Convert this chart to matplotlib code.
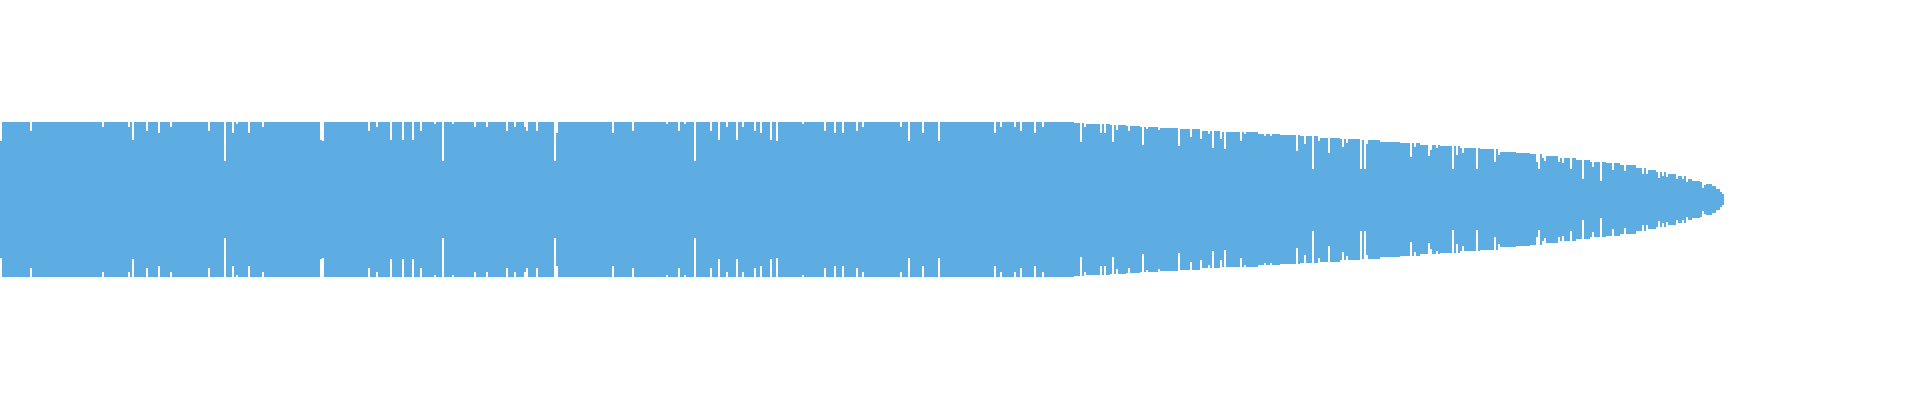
import matplotlib
matplotlib.use("Agg")
from matplotlib import pyplot as plt
import numpy as np

# envelope of the waveform: pixel x where each step starts, and its amplitude (1 = full)
env_x = [0, 1074, 1085, 1095, 1110, 1125, 1140, 1160, 1180, 1200, 1220, 1240, 1260,
         1280, 1300, 1320, 1340, 1360, 1380, 1400, 1420, 1440, 1460, 1480, 1500,
         1515, 1530, 1545, 1560, 1575, 1590, 1605, 1620, 1635, 1645, 1655, 1665,
         1675, 1685, 1692, 1700, 1706, 1712, 1716, 1720, 1722]
env_amp = [1.0, 0.99, 0.98, 0.97, 0.96, 0.945, 0.935, 0.92, 0.905, 0.89, 0.875, 0.865,
           0.85, 0.835, 0.82, 0.80, 0.785, 0.765, 0.745, 0.725, 0.70, 0.685, 0.67,
           0.655, 0.615, 0.60, 0.585, 0.56, 0.535, 0.51, 0.485, 0.465, 0.445, 0.41,
           0.38, 0.355, 0.33, 0.305, 0.27, 0.245, 0.225, 0.20, 0.17, 0.14, 0.10, 0.07]
wave_end = 1724

# short dips (quieter samples): pixel x, amplitude
dip_x = [0, 30, 102, 129, 133, 146, 159, 170, 209, 224, 233, 237, 248, 262, 320, 322,
         368, 377, 391, 402, 413, 420, 434, 442, 452, 474, 486, 507, 515, 525, 527,
         537, 554, 556, 613, 632, 667, 678, 684, 695, 710, 718, 727, 736, 743, 754,
         761, 770, 777, 803, 825, 834, 842, 856, 863, 901, 909, 923, 938, 994, 1000,
         1014, 1021, 1034, 1042, 1080, 1100, 1105, 1112, 1142, 1178, 1191, 1201,
         1212, 1220, 1225, 1241, 1296, 1304, 1312, 1319, 1329, 1343, 1360, 1364,
         1410, 1428, 1453, 1477, 1494, 1536, 1539, 1544, 1558, 1562, 1571, 1583,
         1592, 1600, 1613, 1625, 1642, 1658, 1702,
         1085, 1117, 1129, 1146, 1158, 1208, 1245, 1258, 1265, 1271, 1318, 1346,
         1367, 1415, 1430, 1437, 1457, 1463, 1498, 1542, 1646, 1662, 1667, 1677,
         1682, 1687, 1704]
dip_amp = [0.75, 0.88, 0.94, 0.94, 0.77, 0.88, 0.86, 0.94, 0.88, 0.50, 0.86, 0.97,
           0.86, 0.94, 0.77, 0.76, 0.88, 0.94, 0.77, 0.77, 0.77, 0.88, 0.97, 0.50,
           0.97, 0.94, 0.94, 0.88, 0.94, 0.94, 0.88, 0.88, 0.50, 0.86, 0.86, 0.88,
           0.97, 0.88, 0.97, 0.50, 0.88, 0.77, 0.94, 0.77, 0.94, 0.88, 0.86, 0.77,
           0.76, 0.97, 0.88, 0.86, 0.86, 0.88, 0.94, 0.94, 0.76, 0.86, 0.76, 0.86,
           0.94, 0.94, 0.88, 0.86, 0.94, 0.74, 0.86, 0.86, 0.74, 0.70, 0.69, 0.81,
           0.78, 0.665, 0.78, 0.65, 0.755, 0.63, 0.72, 0.40, 0.75, 0.60, 0.68, 0.40,
           0.40, 0.545, 0.56, 0.39, 0.39, 0.48, 0.49, 0.39, 0.50, 0.48, 0.47, 0.40,
           0.26, 0.42, 0.24, 0.38, 0.37, 0.33, 0.28, 0.15,
           0.93, 0.90, 0.89, 0.91, 0.90, 0.84, 0.84, 0.84, 0.82, 0.82, 0.76, 0.73,
           0.72, 0.68, 0.64, 0.66, 0.58, 0.60, 0.58, 0.53, 0.33, 0.30, 0.29, 0.26,
           0.26, 0.23, 0.19]

bar_w = 2
center = 199.5
half = 77.5

xs = np.arange(0, wave_end, bar_w)
idx = np.searchsorted(env_x, xs, side="right") - 1
amps = np.array(env_amp)[idx]
for x, a in zip(dip_x, dip_amp):
    i = int(x // bar_w)
    amps[i] = min(amps[i], a)

fig = plt.figure(figsize=(19.2, 4), dpi=100)
ax = fig.add_axes([0, 0, 1, 1])
ax.bar(xs, 2 * amps * half, bottom=center - amps * half, width=bar_w, align="edge",
       color="#5DADE2", linewidth=0, antialiased=False)
ax.set_xlim(0, 1920)
ax.set_ylim(400, 0)
ax.axis("off")
fig.savefig("out.png", dpi=100, facecolor="white")
